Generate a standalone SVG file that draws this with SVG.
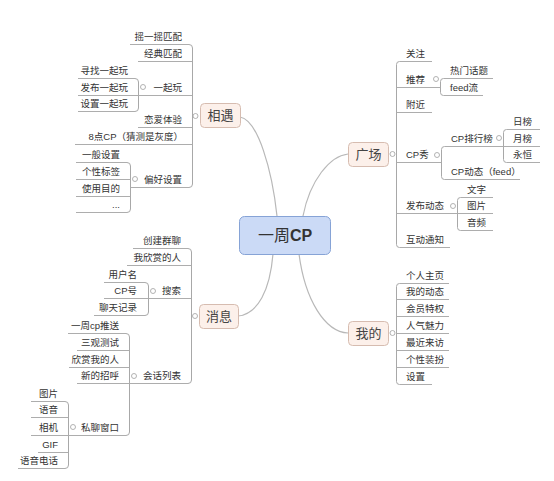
<svg xmlns="http://www.w3.org/2000/svg" width="554" height="481" viewBox="0 0 554 481">
<style>
.t{font-family:"Liberation Sans","Noto Sans CJK SC",sans-serif;font-size:9.5px;fill:#333}
.l{text-anchor:end}
.u{stroke:#adadad;stroke-width:1;fill:none}
.c{stroke:#a8a8a8;stroke-width:1;fill:none}
.cv{stroke:#b8b8b8;stroke-width:1.2;fill:none}
.dot{fill:#fff;stroke:#a0a0a0;stroke-width:0.8}
.mb{fill:#fcf0ea;stroke:#d6bcb0;stroke-width:1}
.mt{font-family:"Liberation Sans","Noto Sans CJK SC",sans-serif;font-size:13px;fill:#444;text-anchor:middle}
</style>
<rect width="554" height="481" fill="#fff"/>
<g id="connectors">
<path class="cv" d="M240,117 C258,120 272,170 277,216"/>
<path class="cv" d="M348,154 C330,156 310,180 303,216"/>
<path class="cv" d="M238,316 C258,314 270,290 273,254"/>
<path class="cv" d="M348,333 C325,332 305,300 299,254"/>
<path class="c" d="M189,44.5 Q192.5,44.5 192.5,48 V184 Q192.5,187.5 189,187.5"/>
<path class="c" d="M135,78.5 Q138.5,78.5 138.5,82 V108 Q138.5,111.5 135,111.5"/>
<path class="c" d="M127,162.5 Q130.5,162.5 130.5,166 V209 Q130.5,212.5 127,212.5"/>
<path class="c" d="M188,248.5 Q191.5,248.5 191.5,252 V380 Q191.5,383.5 188,383.5"/>
<path class="c" d="M145,282.5 Q148.5,282.5 148.5,286 V312 Q148.5,315.5 145,315.5"/>
<path class="c" d="M126,333.5 Q129.5,333.5 129.5,337 V432 Q129.5,435.5 126,435.5"/>
<path class="c" d="M65,401.5 Q68.5,401.5 68.5,405 V465 Q68.5,468.5 65,468.5"/>
<path class="c" d="M399.5,61.5 Q396.5,61.5 396.5,64.5 V244.5 Q396.5,247.5 399.5,247.5"/>
<path class="c" d="M443.5,78.5 Q440.5,78.5 440.5,81.5 V92.5 Q440.5,95.5 443.5,95.5"/>
<path class="c" d="M444.5,146.5 Q441.5,146.5 441.5,149.5 V176.5 Q441.5,179.5 444.5,179.5"/>
<path class="c" d="M506.5,129.5 Q503.5,129.5 503.5,132.5 V159.5 Q503.5,162.5 506.5,162.5"/>
<path class="c" d="M460.5,197.5 Q457.5,197.5 457.5,200.5 V227.5 Q457.5,230.5 460.5,230.5"/>
<path class="c" d="M399.5,283.5 Q396.5,283.5 396.5,286.5 V381.5 Q396.5,384.5 399.5,384.5"/>
</g>
<g id="center"><rect x="239.5" y="216.5" width="91" height="38" rx="5" fill="#cbdaf6" stroke="#86a3d6"/><text x="285" y="241" style="font-family:'Liberation Sans','Noto Sans CJK SC',sans-serif;font-size:16px;fill:#333;text-anchor:middle">一周<tspan font-weight="bold">CP</tspan></text></g>
<g id="xiangyu"><rect class="mb" x="200.5" y="103.5" width="40" height="24" rx="4"/><text class="mt" x="220.5" y="120">相遇</text><circle class="dot" cx="195.5" cy="116" r="2.5"/></g>
<g id="xiaoxi"><rect class="mb" x="199.5" y="304.5" width="39" height="24" rx="4"/><text class="mt" x="219" y="321">消息</text><circle class="dot" cx="195" cy="316" r="2.5"/></g>
<g id="guangchang"><rect class="mb" x="348.5" y="142.5" width="40" height="24" rx="4"/><text class="mt" x="368.5" y="159">广场</text><circle class="dot" cx="392.5" cy="154" r="2.5"/></g>
<g id="wode"><rect class="mb" x="348.5" y="321.5" width="40" height="24" rx="4"/><text class="mt" x="368.5" y="338">我的</text><circle class="dot" cx="392.5" cy="333" r="2.5"/></g>

<g id="n-yaoyiyao"><text class="t l" x="182" y="39.5">摇一摇匹配</text><line class="u" x1="130" y1="44.5" x2="189" y2="44.5"/></g>
<g id="n-jingdian"><text class="t l" x="182" y="56.5">经典匹配</text><line class="u" x1="138" y1="61.5" x2="192.5" y2="61.5"/></g>
<g id="n-yiqiwan"><text class="t l" x="182" y="90.5">一起玩</text><line class="u" x1="138.5" y1="95.5" x2="192.5" y2="95.5"/><circle class="dot" cx="143" cy="87" r="2.5"/></g>
<g id="n-xunzhao"><text class="t l" x="128" y="73.5">寻找一起玩</text><line class="u" x1="78" y1="78.5" x2="135" y2="78.5"/></g>
<g id="n-fabu"><text class="t l" x="128" y="90.5">发布一起玩</text><line class="u" x1="78" y1="95.5" x2="138.5" y2="95.5"/></g>
<g id="n-shezhi"><text class="t l" x="128" y="106.5">设置一起玩</text><line class="u" x1="78" y1="111.5" x2="135" y2="111.5"/></g>
<g id="n-lianai"><text class="t l" x="182" y="122.5">恋爱体验</text><line class="u" x1="138" y1="127.5" x2="192.5" y2="127.5"/></g>
<g id="n-8dian"><text class="t l" x="183" y="139.5">8点CP（猜测是灰度）</text><line class="u" x1="75" y1="144.5" x2="192.5" y2="144.5"/></g>
<g id="n-pianhao"><text class="t l" x="182" y="182.5">偏好设置</text><line class="u" x1="130.5" y1="187.5" x2="189" y2="187.5"/><circle class="dot" cx="135" cy="179" r="2.5"/></g>
<g id="n-yiban"><text class="t l" x="120" y="157.5">一般设置</text><line class="u" x1="76" y1="162.5" x2="127" y2="162.5"/></g>
<g id="n-gexing"><text class="t l" x="120" y="174.5">个性标签</text><line class="u" x1="76" y1="179.5" x2="130.5" y2="179.5"/></g>
<g id="n-shiyong"><text class="t l" x="120" y="191.5">使用目的</text><line class="u" x1="76" y1="196.5" x2="130.5" y2="196.5"/></g>
<g id="n-dots"><text class="t l" x="120" y="207.5">...</text><line class="u" x1="76" y1="212.5" x2="127" y2="212.5"/></g>

<g id="n-chuangjian"><text class="t l" x="181" y="243.5">创建群聊</text><line class="u" x1="133" y1="248.5" x2="188" y2="248.5"/></g>
<g id="n-woxinshang"><text class="t l" x="181" y="260.5">我欣赏的人</text><line class="u" x1="127" y1="265.5" x2="191.5" y2="265.5"/></g>
<g id="n-sousuo"><text class="t l" x="181" y="293.5">搜索</text><line class="u" x1="148.5" y1="298.5" x2="191.5" y2="298.5"/><circle class="dot" cx="153" cy="291" r="2.5"/></g>
<g id="n-yonghuming"><text class="t l" x="137" y="277.5">用户名</text><line class="u" x1="104" y1="282.5" x2="145" y2="282.5"/></g>
<g id="n-cphao"><text class="t l" x="137" y="293.5">CP号</text><line class="u" x1="104" y1="298.5" x2="148.5" y2="298.5"/></g>
<g id="n-liaotian"><text class="t l" x="137" y="310.5">聊天记录</text><line class="u" x1="94" y1="315.5" x2="145" y2="315.5"/></g>
<g id="n-huihua"><text class="t l" x="181" y="378.5">会话列表</text><line class="u" x1="129.5" y1="383.5" x2="188" y2="383.5"/><circle class="dot" cx="134" cy="376" r="2.5"/></g>
<g id="n-yizhoucp"><text class="t l" x="119" y="328.5">一周cp推送</text><line class="u" x1="68" y1="333.5" x2="126" y2="333.5"/></g>
<g id="n-sanguan"><text class="t l" x="119" y="345.5">三观测试</text><line class="u" x1="77" y1="350.5" x2="129.5" y2="350.5"/></g>
<g id="n-xinshangwo"><text class="t l" x="119" y="362.5">欣赏我的人</text><line class="u" x1="69" y1="367.5" x2="129.5" y2="367.5"/></g>
<g id="n-xinde"><text class="t l" x="119" y="378.5">新的招呼</text><line class="u" x1="77" y1="383.5" x2="129.5" y2="383.5"/></g>
<g id="n-siliao"><text class="t l" x="119" y="430.5">私聊窗口</text><line class="u" x1="68.5" y1="435.5" x2="126" y2="435.5"/><circle class="dot" cx="73" cy="427" r="2.5"/></g>
<g id="n-tupian1"><text class="t l" x="58" y="396.5">图片</text><line class="u" x1="31" y1="401.5" x2="65" y2="401.5"/></g>
<g id="n-yuyin"><text class="t l" x="58" y="412.5">语音</text><line class="u" x1="31" y1="417.5" x2="68.5" y2="417.5"/></g>
<g id="n-xiangji"><text class="t l" x="58" y="430.5">相机</text><line class="u" x1="31" y1="435.5" x2="68.5" y2="435.5"/></g>
<g id="n-gif"><text class="t l" x="58" y="447.5">GIF</text><line class="u" x1="38" y1="452.5" x2="68.5" y2="452.5"/></g>
<g id="n-yuyindianhua"><text class="t l" x="58" y="463.5">语音电话</text><line class="u" x1="18" y1="468.5" x2="65" y2="468.5"/></g>

<g id="n-guanzhu"><text class="t" x="406" y="56.5">关注</text><line class="u" x1="399.5" y1="61.5" x2="432" y2="61.5"/></g>
<g id="n-tuijian"><text class="t" x="406" y="82.5">推荐</text><line class="u" x1="396.5" y1="87.5" x2="440.5" y2="87.5"/><circle class="dot" cx="436" cy="79" r="2.5"/></g>
<g id="n-remen"><text class="t" x="450" y="73.5">热门话题</text><line class="u" x1="443.5" y1="78.5" x2="493" y2="78.5"/></g>
<g id="n-feed"><text class="t" x="450" y="90.5">feed流</text><line class="u" x1="443.5" y1="95.5" x2="483" y2="95.5"/></g>
<g id="n-fujin"><text class="t" x="406" y="107.5">附近</text><line class="u" x1="396.5" y1="112.5" x2="432" y2="112.5"/></g>
<g id="n-cpxiu"><text class="t" x="406" y="157.5">CP秀</text><line class="u" x1="396.5" y1="162.5" x2="441.5" y2="162.5"/><circle class="dot" cx="437" cy="155" r="2.5"/></g>
<g id="n-paihang"><text class="t" x="451" y="141.5">CP排行榜</text><line class="u" x1="444.5" y1="146.5" x2="503.5" y2="146.5"/><circle class="dot" cx="499" cy="138" r="2.5"/></g>
<g id="n-ribang"><text class="t" x="513" y="124.5">日榜</text><line class="u" x1="506.5" y1="129.5" x2="540" y2="129.5"/></g>
<g id="n-yuebang"><text class="t" x="513" y="141.5">月榜</text><line class="u" x1="503.5" y1="146.5" x2="540" y2="146.5"/></g>
<g id="n-yongheng"><text class="t" x="513" y="157.5">永恒</text><line class="u" x1="506.5" y1="162.5" x2="540" y2="162.5"/></g>
<g id="n-cpdongtai"><text class="t" x="451" y="174.5">CP动态（feed）</text><line class="u" x1="444.5" y1="179.5" x2="520" y2="179.5"/></g>
<g id="n-fabudongtai"><text class="t" x="406" y="208.5">发布动态</text><line class="u" x1="396.5" y1="213.5" x2="457.5" y2="213.5"/><circle class="dot" cx="453" cy="206" r="2.5"/></g>
<g id="n-wenzi"><text class="t" x="467" y="192.5">文字</text><line class="u" x1="460.5" y1="197.5" x2="493" y2="197.5"/></g>
<g id="n-tupian2"><text class="t" x="467" y="208.5">图片</text><line class="u" x1="457.5" y1="213.5" x2="493" y2="213.5"/></g>
<g id="n-yinpin"><text class="t" x="467" y="225.5">音频</text><line class="u" x1="460.5" y1="230.5" x2="493" y2="230.5"/></g>
<g id="n-hudong"><text class="t" x="406" y="242.5">互动通知</text><line class="u" x1="399.5" y1="247.5" x2="450" y2="247.5"/></g>

<g id="n-gerenzhuye"><text class="t" x="406" y="278.5">个人主页</text><line class="u" x1="399.5" y1="283.5" x2="449" y2="283.5"/></g>
<g id="n-wodedongtai"><text class="t" x="406" y="294.5">我的动态</text><line class="u" x1="396.5" y1="299.5" x2="449" y2="299.5"/></g>
<g id="n-huiyuan"><text class="t" x="406" y="311.5">会员特权</text><line class="u" x1="396.5" y1="316.5" x2="449" y2="316.5"/></g>
<g id="n-renqi"><text class="t" x="406" y="328.5">人气魅力</text><line class="u" x1="396.5" y1="333.5" x2="449" y2="333.5"/></g>
<g id="n-zuijin"><text class="t" x="406" y="345.5">最近来访</text><line class="u" x1="396.5" y1="350.5" x2="449" y2="350.5"/></g>
<g id="n-zhuangban"><text class="t" x="406" y="362.5">个性装扮</text><line class="u" x1="396.5" y1="367.5" x2="449" y2="367.5"/></g>
<g id="n-shezhi2"><text class="t" x="406" y="379.5">设置</text><line class="u" x1="399.5" y1="384.5" x2="432" y2="384.5"/></g>
</svg>
